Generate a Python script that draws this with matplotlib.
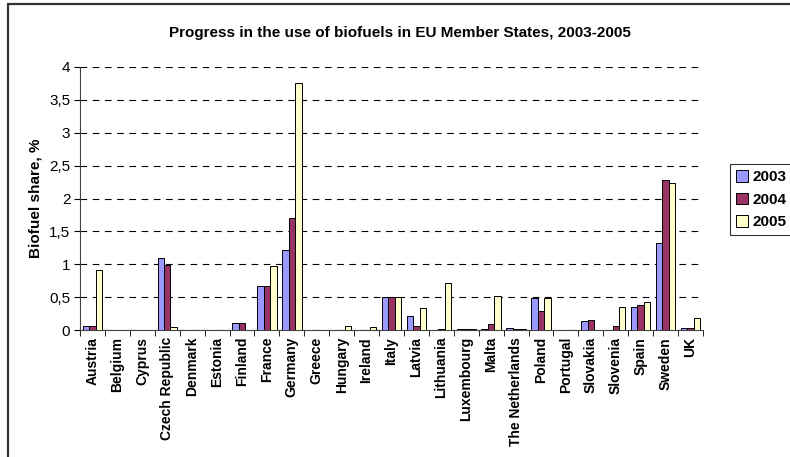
import numpy as np
import matplotlib
matplotlib.use("Agg")
import matplotlib.pyplot as plt
from matplotlib.patches import Rectangle

countries = ["Austria", "Belgium", "Cyprus", "Czech Republic", "Denmark", "Estonia",
             "Finland", "France", "Germany", "Greece", "Hungary", "Ireland", "Italy",
             "Latvia", "Lithuania", "Luxembourg", "Malta", "The Netherlands", "Poland",
             "Portugal", "Slovakia", "Slovenia", "Spain", "Sweden", "UK"]
share_2003 = [0.06, 0, 0, 1.09, 0, 0, 0.11, 0.67, 1.21, 0, 0, 0, 0.50,
              0.21, 0, 0.01, 0.01, 0.03, 0.48, 0, 0.13, 0, 0.35, 1.33, 0.03]
share_2004 = [0.06, 0, 0, 0.99, 0, 0, 0.11, 0.67, 1.71, 0, 0, 0, 0.50,
              0.06, 0.02, 0.02, 0.09, 0.02, 0.29, 0, 0.15, 0.06, 0.38, 2.28, 0.03]
share_2005 = [0.92, 0, 0, 0.04, 0, 0, 0, 0.97, 3.75, 0, 0.06, 0.04, 0.50,
              0.33, 0.72, 0.01, 0.52, 0.02, 0.48, 0, 0, 0.35, 0.43, 2.23, 0.18]
years = ["2003", "2004", "2005"]
colors = ["#9999FF", "#993366", "#FFFFCC"]

plt.rcParams["font.family"] = ["Liberation Sans", "DejaVu Sans"]

W, H = 790, 457
fig = plt.figure(figsize=(W / 100, H / 100), dpi=100)

# outer chart border (clipped at right/bottom like the source)
fig.patches.append(Rectangle((8 / W, -0.1), 1.1, 1 - 4 / H + 0.1, transform=fig.transFigure,
                             fill=False, edgecolor="#333333", linewidth=1.6))

ax = fig.add_axes([80 / W, 1 - 330 / H, (703 - 80) / W, (330 - 67) / H])

x = np.arange(len(countries))
w = 0.26
for i, (vals, yr, c) in enumerate(zip([share_2003, share_2004, share_2005], years, colors)):
    ax.bar(x + (i - 1) * w, vals, width=w, color=c, edgecolor="black", linewidth=0.7,
           label=yr, zorder=3)

ax.set_xlim(-0.5, len(countries) - 0.5)
ax.set_ylim(0, 4)
ax.set_yticks(np.arange(0, 4.01, 0.5))
ax.set_yticklabels(["0", "0,5", "1", "1,5", "2", "2,5", "3", "3,5", "4"], fontsize=11)
ax.yaxis.grid(True, linestyle=(0, (6, 5)), color="black", linewidth=0.8)
ax.set_axisbelow(True)

ax.set_xticks(x)
ax.set_xticklabels(countries, rotation=90, fontsize=10, fontweight="bold")
ax.set_xticks(np.arange(-0.5, len(countries), 1), minor=True)
ax.tick_params(axis="x", which="major", length=0, pad=5)
ax.tick_params(axis="x", which="minor", length=4, direction="out", color="black")
ax.tick_params(axis="y", length=4, direction="out", color="black", pad=3)

for s in ["top", "right"]:
    ax.spines[s].set_visible(False)
ax.spines["left"].set_color("#444444")
ax.spines["bottom"].set_color("#444444")

ax.set_ylabel("Biofuel share, %", fontsize=11, fontweight="bold", labelpad=5)

fig.text(400 / W, 1 - 33 / H, "Progress in the use of biofuels in EU Member States, 2003-2005",
         ha="center", va="center", fontsize=11, fontweight="bold")

leg = fig.legend(loc="upper left", bbox_to_anchor=(730 / W, 1 - 164 / H),
                 prop={"weight": "bold", "size": 11}, frameon=True, fancybox=False,
                 edgecolor="black", handlelength=0.8, handleheight=0.8, handletextpad=0.25,
                 borderpad=0.4, borderaxespad=0, labelspacing=0.55)
leg.get_frame().set_linewidth(0.8)

fig.savefig("out.png", dpi=100)
